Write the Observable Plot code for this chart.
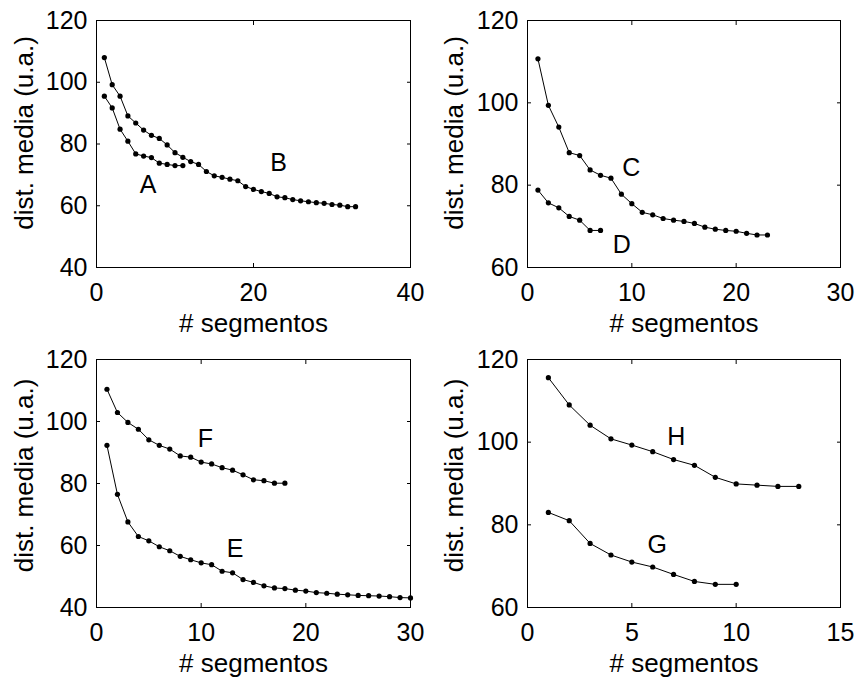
<!DOCTYPE html>
<html>
<head>
<meta charset="utf-8">
<script src="https://cdn.jsdelivr.net/npm/d3@7"></script>
<script src="https://cdn.jsdelivr.net/npm/@observablehq/plot@0.6"></script>
<style>
  html, body { margin: 0; padding: 0; background: white; }
  #root { position: relative; width: 858px; height: 680px; background: white; overflow: hidden; }
  #root > svg { position: absolute; }
</style>
</head>
<body>
<div id="root"></div>
<script>
// ---- data ----
const seriesA = [95.5, 91.7, 84.8, 80.9, 76.8, 76.1, 75.6, 73.8, 73.4, 73.0, 73.0];
const seriesB = [108.0, 99.2, 95.5, 89.1, 86.8, 84.5, 82.8, 81.8, 79.7, 77.2, 75.7, 74.3, 73.4, 71.1, 69.7, 69.2, 68.6, 68.1, 66.2, 65.3, 64.6, 64.0, 62.9, 62.6, 62.0, 61.6, 61.3, 61.0, 60.8, 60.4, 60.2, 59.7, 59.7];
const seriesC = [110.7, 99.4, 94.1, 87.9, 87.2, 83.7, 82.4, 81.7, 77.8, 75.5, 73.4, 72.8, 71.9, 71.5, 71.2, 70.7, 69.8, 69.3, 69.0, 68.8, 68.3, 67.9, 67.9];
const seriesD = [78.8, 75.7, 74.5, 72.4, 71.5, 69.0, 69.0];
const seriesE = [92.3, 76.5, 67.6, 62.9, 61.5, 59.6, 58.3, 56.5, 55.4, 54.4, 53.8, 51.7, 51.2, 49.0, 48.1, 47.0, 46.3, 46.1, 45.6, 45.3, 44.8, 44.6, 44.3, 44.1, 43.9, 43.8, 43.7, 43.5, 43.2, 43.1];
const seriesF = [110.4, 102.9, 99.7, 97.5, 94.1, 92.3, 91.1, 88.9, 88.5, 86.9, 86.3, 85.1, 84.3, 82.8, 81.2, 80.9, 80.1, 80.1];
const seriesG = [83.0, 81.0, 75.5, 72.7, 71.0, 69.8, 68.0, 66.3, 65.6, 65.6];
const seriesH = [115.6, 109.0, 104.1, 100.8, 99.3, 97.7, 95.8, 94.4, 91.5, 89.9, 89.6, 89.3, 89.3];

// series label positions (data coordinates)
const labelNames = ["A", "B", "C", "D", "E", "F", "G", "H"];
const labelX = [6.56, 23.2, 9.95, 9.03, 13.23, 10.4, 6.22, 7.13];
const labelY = [66.6, 73.9, 84.1, 65.4, 58.8, 94.5, 75.1, 101.25];

// axis ticks per panel
const xTicks1 = [0, 20, 40];
const yTicks1 = [40, 60, 80, 100, 120];
const xTicks2 = [0, 10, 20, 30];
const yTicks2 = [60, 80, 100, 120];
const xTicks3 = [0, 10, 20, 30];
const yTicks3 = [40, 60, 80, 100, 120];
const xTicks4 = [0, 5, 10, 15];
const yTicks4 = [60, 80, 100, 120];

const xLabel = "# segmentos";
const yLabel = "dist. media (u.a.)";

// ---- helpers ----
const toRows = (vals) => vals.map((v, i) => ({x: i + 1, y: v}));
const labelRow = (name) => {
  const i = labelNames.indexOf(name);
  return {x: labelX[i], y: labelY[i], t: name};
};

function panel(cfg) {
  const marks = [
    Plot.frame({stroke: "black", strokeWidth: 1}),
    Plot.axisX({ticks: cfg.xTicks, tickSize: -4, tickPadding: 19.5, label: null, tickFormat: d => String(d)}),
    Plot.axisX({anchor: "top", ticks: cfg.xTicks, tickSize: -4, tickFormat: () => "", label: null}),
    Plot.axisY({ticks: cfg.yTicks, tickSize: -4, tickPadding: 13, label: null, tickFormat: d => String(d)}),
    Plot.axisY({anchor: "right", ticks: cfg.yTicks, tickSize: -4, tickFormat: () => "", label: null})
  ];
  for (const s of cfg.series) {
    const rows = toRows(s);
    marks.push(Plot.line(rows, {x: "x", y: "y", stroke: "black", strokeWidth: 1}));
    marks.push(Plot.dot(rows, {x: "x", y: "y", r: 2.6, fill: "black", stroke: "none"}));
  }
  marks.push(Plot.text(cfg.labels.map(labelRow), {x: "x", y: "y", text: "t", fill: "black", fontSize: 25, textAnchor: "middle", lineAnchor: "middle"}));
  marks.push(Plot.text([xLabel], {frameAnchor: "bottom", text: d => d, dy: 56.5, fontSize: 26, textAnchor: "middle", lineAnchor: "middle", fill: "black"}));
  marks.push(Plot.text([yLabel], {frameAnchor: "left", text: d => d, rotate: -90, dx: cfg.ylDx, dy: cfg.ylDy, fontSize: 26, textAnchor: "middle", lineAnchor: "middle", fill: "black"}));

  const svg = Plot.plot({
    width: 429,
    height: 340,
    marginLeft: cfg.ml,
    marginRight: cfg.mr,
    marginTop: cfg.mt,
    marginBottom: cfg.mb,
    x: {domain: cfg.xDomain},
    y: {domain: cfg.yDomain},
    style: {fontFamily: "'Liberation Sans', Arial, Helvetica, sans-serif", fontSize: "25px", background: "transparent", color: "black", overflow: "visible"},
    marks
  });
  svg.style.left = cfg.left + "px";
  svg.style.top = cfg.top + "px";
  document.getElementById("root").appendChild(svg);
}

panel({left: 0, top: 0, ml: 96, mr: 19, mt: 20, mb: 73, xDomain: [0, 40], yDomain: [40, 120],
  xTicks: xTicks1, yTicks: yTicks1, series: [seriesA, seriesB], labels: ["A", "B"], ylDx: -71.5, ylDy: -11});
panel({left: 429, top: 0, ml: 98, mr: 18, mt: 20, mb: 73, xDomain: [0, 30], yDomain: [60, 120],
  xTicks: xTicks2, yTicks: yTicks2, series: [seriesC, seriesD], labels: ["C", "D"], ylDx: -72.5, ylDy: -11});
panel({left: 0, top: 340, ml: 96, mr: 19, mt: 19, mb: 73, xDomain: [0, 30], yDomain: [40, 120],
  xTicks: xTicks3, yTicks: yTicks3, series: [seriesE, seriesF], labels: ["E", "F"], ylDx: -71.5, ylDy: -8});
panel({left: 429, top: 340, ml: 98, mr: 18, mt: 19, mb: 73, xDomain: [0, 15], yDomain: [60, 120],
  xTicks: xTicks4, yTicks: yTicks4, series: [seriesG, seriesH], labels: ["G", "H"], ylDx: -72.5, ylDy: -8});
</script>
</body>
</html>
